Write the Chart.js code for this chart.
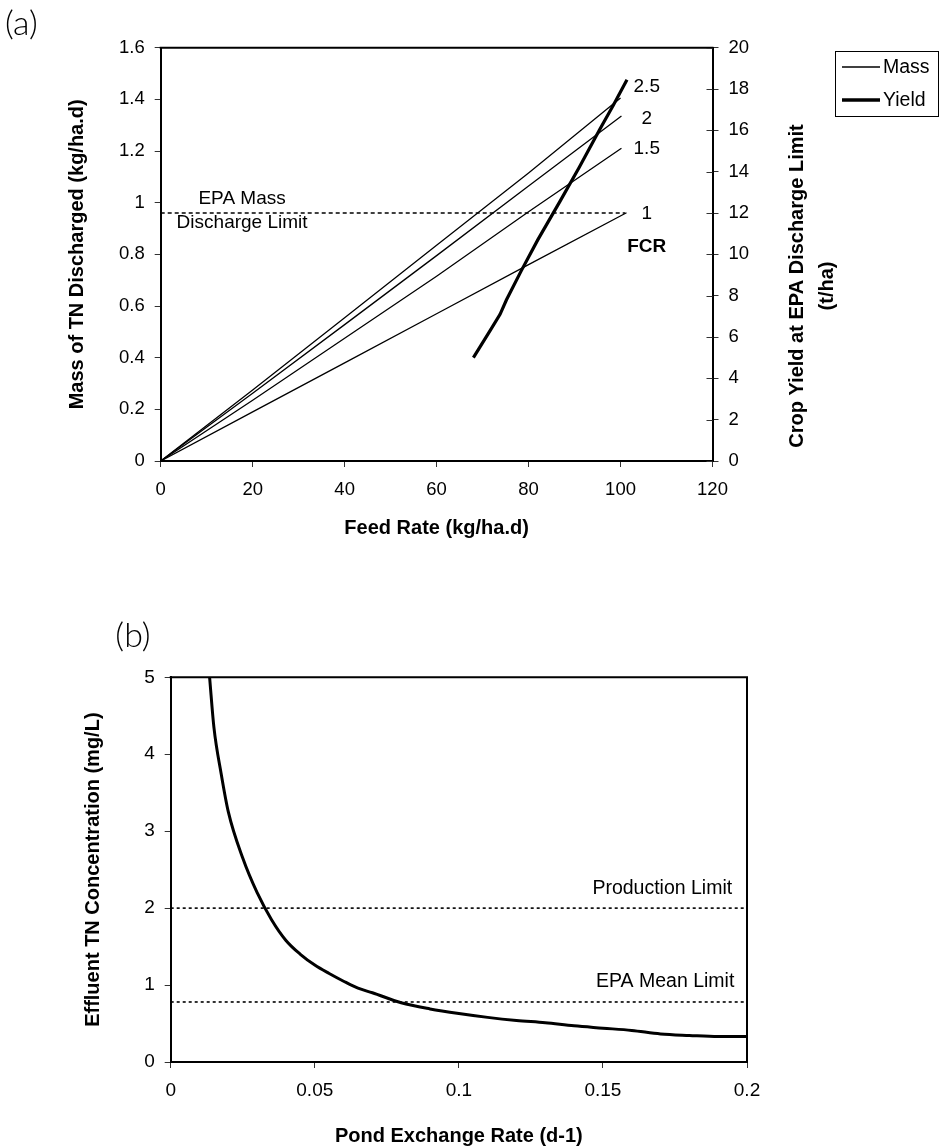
<!DOCTYPE html>
<html>
<head>
<meta charset="utf-8">
<script src="https://cdn.jsdelivr.net/npm/chart.js@4/dist/chart.umd.min.js"></script>
<style>
  body { margin: 0; background: #fff; }
  #wrap { position: relative; width: 940px; height: 1148px; }
  canvas { position: absolute; left: 0; }
</style>
</head>
<body>
<div id="wrap">
  <canvas id="chartA" width="940" height="560" style="top:0"></canvas>
  <canvas id="chartB" width="940" height="588" style="top:560px"></canvas>
</div>
<script>
// ---- chart (a): mass of TN discharged vs feed rate, one line per FCR ----
const feedFcr1 = [0, 20, 40, 60, 80, 101.3];
const massFcr1 = [0, 0.19, 0.38, 0.57, 0.76, 0.961];
const feedFcr15 = [0, 20, 40, 60, 80, 100.2];
const massFcr15 = [0, 0.235, 0.475, 0.715, 0.965, 1.211];
const feedFcr2 = [0, 20, 40, 60, 80, 100.2];
const massFcr2 = [0, 0.262, 0.528, 0.795, 1.065, 1.336];
const feedFcr25 = [0, 20, 40, 60, 80, 100];
const massFcr25 = [0, 0.275, 0.555, 0.835, 1.115, 1.405];

// crop yield at the EPA limit (right axis, t/ha)
const yieldFeed = [68, 71.6, 73.8, 75.2, 78.4, 82, 86.8, 91, 95.5, 98.4, 101.4];
const yieldTonnes = [5.0, 6.3, 7.1, 7.8, 9.2, 10.7, 12.55, 14.2, 16.05, 17.2, 18.45];

// EPA mass discharge limit
const epaMassFeed = [0, 101];
const epaMassLimit = [0.96, 0.96];

// ---- chart (b): effluent TN vs pond exchange rate ----
const exchangeRate = [0.0135, 0.015, 0.0175, 0.02, 0.025, 0.03, 0.035, 0.04, 0.045, 0.05,
  0.055, 0.06, 0.065, 0.07, 0.08, 0.09, 0.1, 0.11, 0.12, 0.13, 0.14, 0.15, 0.16, 0.17,
  0.18, 0.19, 0.2];
const tnConc = [5.0, 4.35, 3.75, 3.25, 2.65, 2.2, 1.85, 1.58, 1.4, 1.26,
  1.15, 1.05, 0.96, 0.9, 0.77, 0.69, 0.63, 0.58, 0.54, 0.51, 0.47, 0.44, 0.41, 0.365,
  0.345, 0.33, 0.33];
const limitRate = [0, 0.2];
const productionLimit = [2, 2];
const epaMeanLimit = [0.78, 0.78];

const FONT = "'Liberation Sans', Arial, sans-serif";
Chart.defaults.font.family = FONT;
Chart.defaults.color = '#000';

function pts(xs, ys) {
  return xs.map((x, i) => ({ x: x, y: ys[i] }));
}

function massLine(xs, ys) {
  return { data: pts(xs, ys), showLine: true, borderColor: '#000', borderWidth: 1.3,
    pointRadius: 0, tension: 0, yAxisID: 'y' };
}

const plainNum = v => String(+Number(v).toFixed(4));

function axisStyle(size, pad, extra) {
  return Object.assign({
    type: 'linear',
    grid: { drawOnChartArea: false, drawTicks: true, tickLength: 6, color: '#333', lineWidth: 1 },
    border: { display: true, color: '#000', width: 2 },
  }, extra, {
    ticks: Object.assign({ font: { size: size }, color: '#000', padding: pad, callback: plainNum },
      extra.ticks || {})
  });
}

const titleFont = { size: 20, weight: 'bold' };

// text labels on chart (a), positioned in data units
const annotA = [
  { text: '2.5', x: 105.7, y: 1.447 },
  { text: '2', x: 105.7, y: 1.323 },
  { text: '1.5', x: 105.7, y: 1.207 },
  { text: '1', x: 105.7, y: 0.959 },
  { text: 'FCR', x: 105.7, y: 0.83, bold: true },
  { text: 'EPA Mass', x: 17.7, y: 1.014 },
  { text: 'Discharge Limit', x: 17.7, y: 0.921 }
];

const extrasA = {
  id: 'extrasA',
  afterDraw(chart) {
    const { ctx, chartArea: a, scales } = chart;
    ctx.save();
    // top border of the plot box
    ctx.strokeStyle = '#000';
    ctx.lineWidth = 2;
    ctx.beginPath();
    ctx.moveTo(a.left - 1, a.top);
    ctx.lineTo(a.right + 1, a.top);
    ctx.stroke();
    // inner half of the crossing ticks on the right axis
    ctx.lineWidth = 1;
    ctx.strokeStyle = '#333';
    scales.y1.ticks.forEach(t => {
      const py = Math.round(scales.y1.getPixelForValue(t.value)) + 0.5;
      ctx.beginPath();
      ctx.moveTo(a.right - 6, py);
      ctx.lineTo(a.right, py);
      ctx.stroke();
    });
    // labels
    ctx.fillStyle = '#000';
    ctx.textAlign = 'center';
    ctx.textBaseline = 'middle';
    annotA.forEach(l => {
      ctx.font = (l.bold ? 'bold ' : '') + '19px ' + FONT;
      ctx.fillText(l.text, scales.x.getPixelForValue(l.x), scales.y.getPixelForValue(l.y));
    });
    // right axis title
    ctx.font = 'bold 20px ' + FONT;
    [['Crop Yield at EPA Discharge Limit', 797], ['(t/ha)', 827]].forEach(([s, px]) => {
      ctx.save();
      ctx.translate(px, 286);
      ctx.rotate(-Math.PI / 2);
      ctx.fillText(s, 0, 0);
      ctx.restore();
    });
    // legend
    ctx.strokeStyle = '#000';
    ctx.lineWidth = 1;
    ctx.strokeRect(835.5, 51.5, 103, 65);
    ctx.lineWidth = 1.3;
    ctx.beginPath(); ctx.moveTo(842, 67); ctx.lineTo(880, 67); ctx.stroke();
    ctx.lineWidth = 3.5;
    ctx.beginPath(); ctx.moveTo(842, 100); ctx.lineTo(880, 100); ctx.stroke();
    ctx.font = '19.5px ' + FONT;
    ctx.textAlign = 'left';
    ctx.fillText('Mass', 883, 68);
    ctx.fillText('Yield', 883, 101);
    // panel letter
    ctx.font = '300 34px Lato, ' + FONT;
    ctx.fillText('(a)', 5, 24);
    ctx.restore();
  }
};

new Chart(document.getElementById('chartA'), {
  type: 'scatter',
  data: {
    datasets: [
      massLine(feedFcr1, massFcr1),
      massLine(feedFcr15, massFcr15),
      massLine(feedFcr2, massFcr2),
      massLine(feedFcr25, massFcr25),
      { data: pts(epaMassFeed, epaMassLimit), showLine: true, borderColor: '#000', borderWidth: 1.6,
        borderDash: [4, 3], pointRadius: 0, yAxisID: 'y' },
      { data: pts(yieldFeed, yieldTonnes), showLine: true, borderColor: '#000', borderWidth: 3.2,
        pointRadius: 0, tension: 0, yAxisID: 'y1' }
    ]
  },
  options: {
    responsive: false,
    animation: false,
    layout: { padding: { top: 47.7, left: 0, right: 0, bottom: 0 } },
    plugins: { legend: { display: false }, tooltip: { enabled: false } },
    scales: {
      x: axisStyle(18.5, 12, {
        min: 0, max: 120,
        ticks: { stepSize: 20 },
        title: { display: true, text: 'Feed Rate (kg/ha.d)', font: titleFont,
          padding: { top: 0, bottom: 20 } },
        afterFit: s => { s.height = 99; }
      }),
      y: axisStyle(18.5, 10, {
        min: 0, max: 1.6,
        ticks: { stepSize: 0.2 },
        title: { display: true, text: 'Mass of TN Discharged (kg/ha.d)', font: titleFont,
          padding: { top: 65, bottom: 0 } },
        afterFit: s => { s.width = 160.7; }
      }),
      y1: axisStyle(18.5, 10, {
        position: 'right',
        min: 0, max: 20,
        ticks: { stepSize: 2 },
        afterFit: s => { s.width = 227.5; }
      })
    }
  },
  plugins: [extrasA]
});

// ---- chart (b) ----
const annotB = [
  { text: 'Production Limit', x: 0.1706, y: 2.25 },
  { text: 'EPA Mean Limit', x: 0.1716, y: 1.05 }
];

const extrasB = {
  id: 'extrasB',
  afterDraw(chart) {
    const { ctx, chartArea: a, scales } = chart;
    ctx.save();
    ctx.strokeStyle = '#000';
    ctx.lineWidth = 2;
    ctx.beginPath();
    ctx.moveTo(a.left - 1, a.top);
    ctx.lineTo(a.right, a.top);
    ctx.lineTo(a.right, a.bottom);
    ctx.stroke();
    ctx.fillStyle = '#000';
    ctx.textAlign = 'center';
    ctx.textBaseline = 'middle';
    ctx.font = '19.5px ' + FONT;
    annotB.forEach(l => {
      ctx.fillText(l.text, scales.x.getPixelForValue(l.x), scales.y.getPixelForValue(l.y));
    });
    ctx.font = '300 34px Lato, ' + FONT;
    ctx.fillText('(b)', 133, 76);
    ctx.restore();
  }
};

new Chart(document.getElementById('chartB'), {
  type: 'scatter',
  data: {
    datasets: [
      { data: pts(limitRate, productionLimit), showLine: true, borderColor: '#000', borderWidth: 1.6,
        borderDash: [3, 3], pointRadius: 0 },
      { data: pts(limitRate, epaMeanLimit), showLine: true, borderColor: '#000', borderWidth: 1.6,
        borderDash: [3, 3], pointRadius: 0 },
      { data: pts(exchangeRate, tnConc), showLine: true, borderColor: '#000', borderWidth: 3,
        pointRadius: 0, cubicInterpolationMode: 'monotone' }
    ]
  },
  options: {
    responsive: false,
    animation: false,
    layout: { padding: { top: 117.3, left: 0, right: 193, bottom: 0 } },
    plugins: { legend: { display: false }, tooltip: { enabled: false } },
    scales: {
      x: axisStyle(19, 11, {
        min: 0, max: 0.2,
        ticks: { stepSize: 0.05 },
        title: { display: true, text: 'Pond Exchange Rate (d-1)', font: titleFont,
          padding: { top: 0, bottom: 0 } },
        afterFit: s => { s.height = 86; }
      }),
      y: axisStyle(19, 10, {
        min: 0, max: 5,
        ticks: { stepSize: 1 },
        title: { display: true, text: 'Effluent TN Concentration (mg/L)', font: titleFont,
          padding: { top: 81, bottom: 0 } },
        afterFit: s => { s.width = 170.7; }
      })
    }
  },
  plugins: [extrasB]
});
</script>
</body>
</html>
